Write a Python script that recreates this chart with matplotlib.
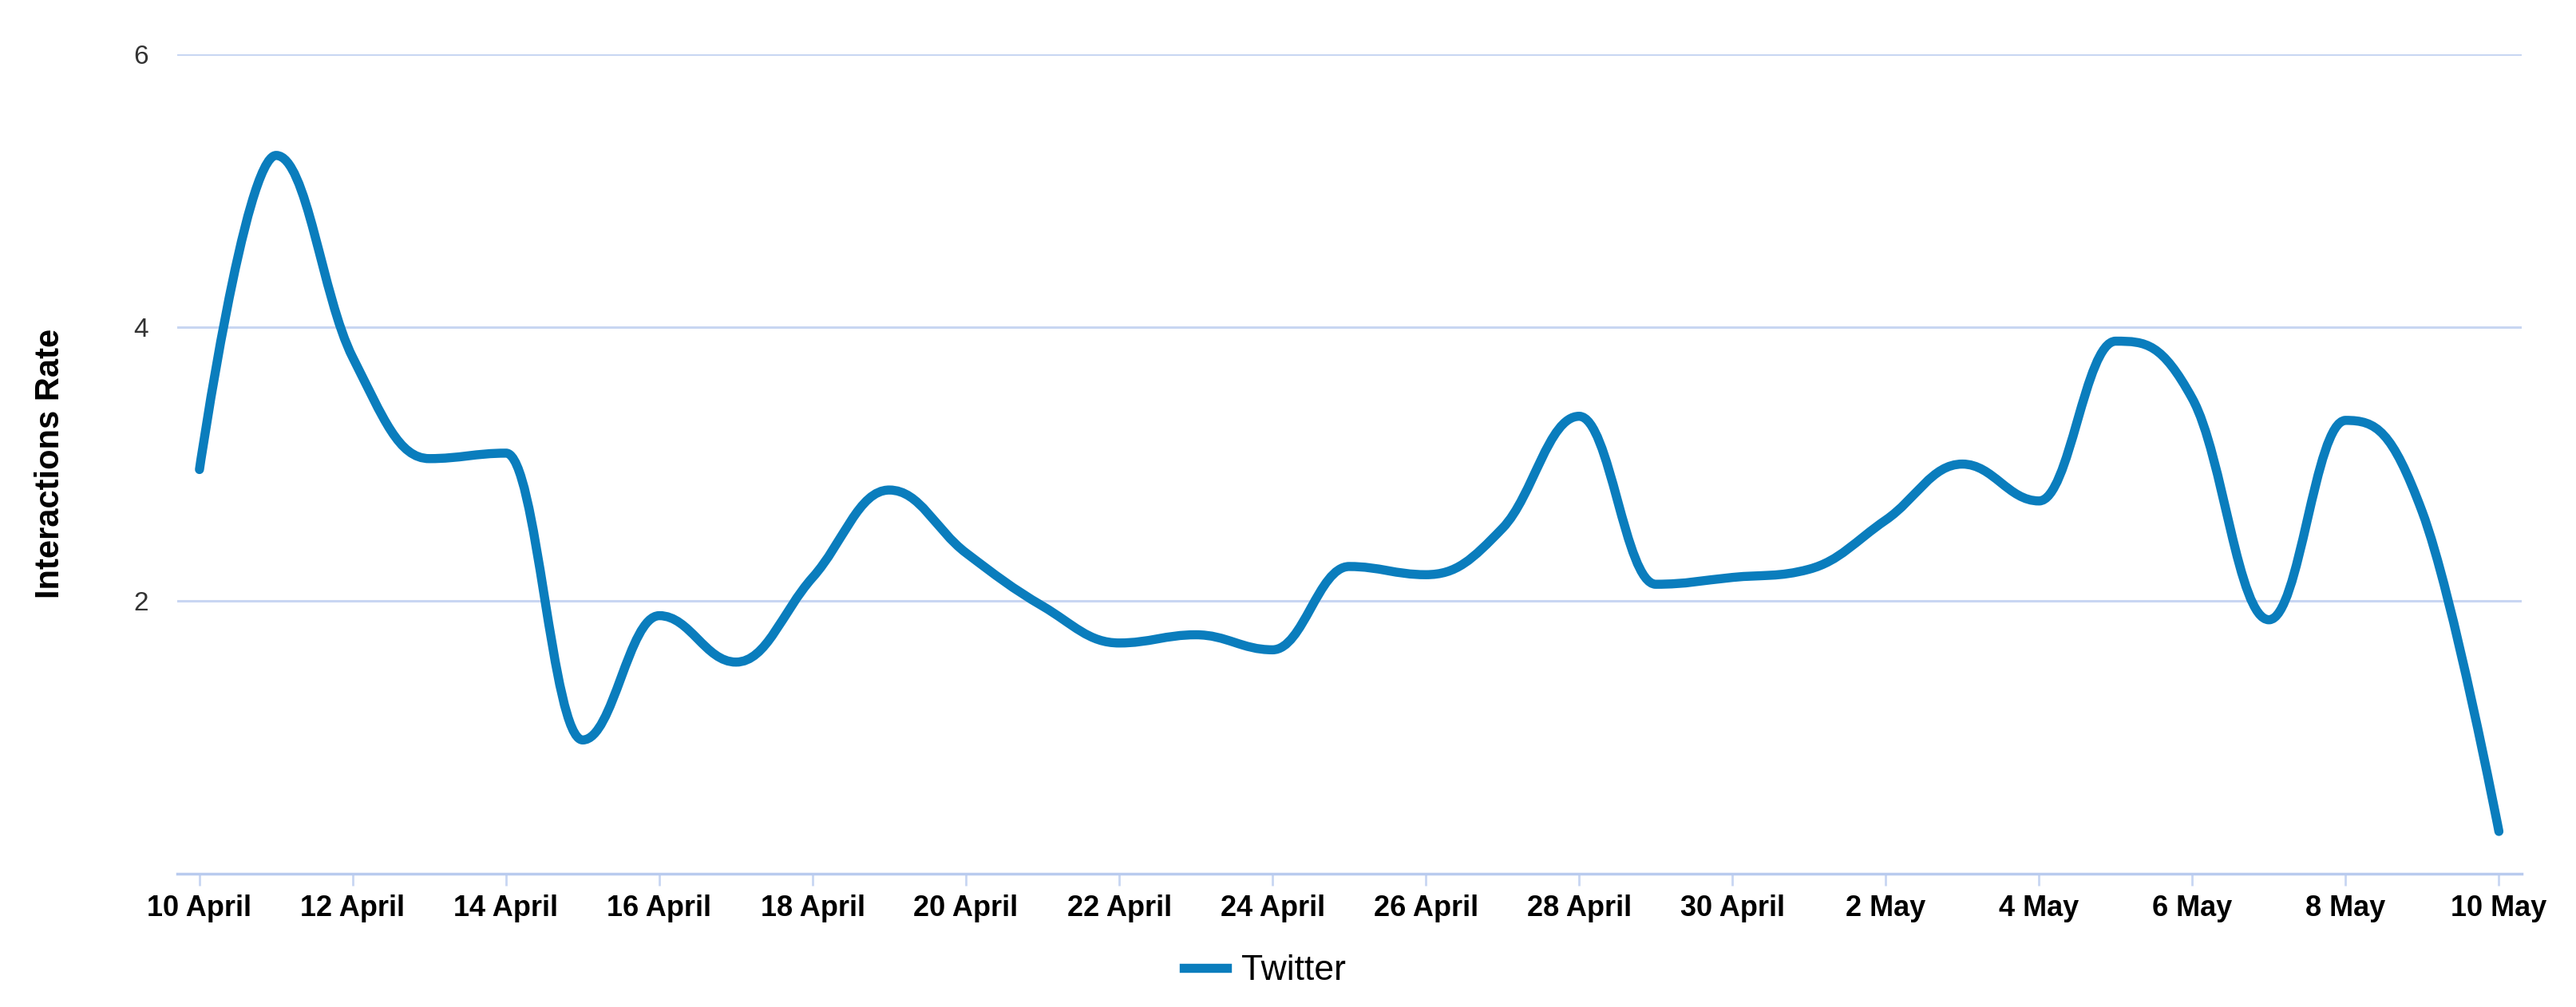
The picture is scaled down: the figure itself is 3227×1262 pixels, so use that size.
import matplotlib
matplotlib.use("Agg")
import matplotlib.pyplot as plt
import numpy as np
from matplotlib.path import Path
from matplotlib.patches import PathPatch
from matplotlib.lines import Line2D

# daily values, 10 April .. 10 May
days = list(range(31))
twitter = [2.96, 5.26, 3.78, 3.04, 3.08, 0.98, 1.89, 1.55, 2.17, 2.81,
           2.35, 1.96, 1.69, 1.75, 1.64, 2.25, 2.19, 2.53, 3.35, 2.12,
           2.17, 2.23, 2.59, 3.00, 2.73, 3.90, 3.48, 1.86, 3.32, 2.65, 0.31]

tick_days = list(range(0, 31, 2))
tick_labels = ["10 April", "12 April", "14 April", "16 April", "18 April",
               "20 April", "22 April", "24 April", "26 April", "28 April",
               "30 April", "2 May", "4 May", "6 May", "8 May", "10 May"]
y_ticks = [2, 4, 6]

line_color = "#0a7dbd"
grid_color = "#c8d6f2"


def spline_path(xs, ys):
    # highcharts-like spline: bezier control points around each point
    xs = np.asarray(xs, float)
    ys = np.asarray(ys, float)
    n = len(xs)
    left = [(xs[i], ys[i]) for i in range(n)]
    right = [(xs[i], ys[i]) for i in range(n)]
    for i in range(1, n - 1):
        x, y = xs[i], ys[i]
        px, py = xs[i - 1], ys[i - 1]
        nx, ny = xs[i + 1], ys[i + 1]
        lcx = (1.5 * x + px) / 2.5
        lcy = (1.5 * y + py) / 2.5
        rcx = (1.5 * x + nx) / 2.5
        rcy = (1.5 * y + ny) / 2.5
        corr = (rcy - lcy) * (rcx - x) / (rcx - lcx) + y - rcy
        lcy += corr
        rcy += corr
        if lcy > py and lcy > y:
            lcy = max(py, y)
            rcy = 2 * y - lcy
        elif lcy < py and lcy < y:
            lcy = min(py, y)
            rcy = 2 * y - lcy
        if rcy > ny and rcy > y:
            rcy = max(ny, y)
            lcy = 2 * y - rcy
        elif rcy < ny and rcy < y:
            rcy = min(ny, y)
            lcy = 2 * y - rcy
        left[i] = (lcx, lcy)
        right[i] = (rcx, rcy)
    verts = [(xs[0], ys[0])]
    codes = [Path.MOVETO]
    for i in range(1, n):
        verts += [right[i - 1], left[i], (xs[i], ys[i])]
        codes += [Path.CURVE4] * 3
    return Path(verts, codes)


fig = plt.figure(figsize=(32.27, 12.62), dpi=100)
ax = fig.add_axes([0.0688, 0.1323, 0.9102, 0.8137])

ax.set_xlim(-0.29, 30.30)
ax.set_ylim(0, 6)

for v in y_ticks:
    ax.axhline(v, color=grid_color, lw=2.2, zorder=1)

patch = PathPatch(spline_path(days, twitter), facecolor="none",
                  edgecolor=line_color, lw=8.2, capstyle="round",
                  joinstyle="round", zorder=3)
ax.add_patch(patch)

for s in ["top", "right", "left"]:
    ax.spines[s].set_visible(False)
ax.spines["bottom"].set_color("#b9cbee")
ax.spines["bottom"].set_linewidth(2.5)

ax.set_xticks(tick_days)
ax.set_xticklabels(tick_labels, fontsize=26, fontweight="bold",
                   family="Liberation Sans")
ax.tick_params(axis="x", length=11, width=2, color="#c8d6f2", pad=8)
ax.set_yticks(y_ticks)
ax.set_yticklabels([str(v) for v in y_ticks], fontsize=24, color="#333333",
                   family="Liberation Sans")
ax.tick_params(axis="y", length=0, pad=26)

fig.text(0.0195, 0.54, "Interactions Rate", rotation=90, ha="center",
         va="center", fontsize=30, fontweight="bold", family="Liberation Sans")

handle = Line2D([], [], color=line_color, lw=8.2)
fig.legend([handle], ["Twitter"], loc="center", bbox_to_anchor=(0.491, 0.036),
           frameon=False, handlelength=1.2, handletextpad=0.4,
           prop={"family": "Liberation Sans", "size": 32})

fig.savefig("out.png", dpi=100)
